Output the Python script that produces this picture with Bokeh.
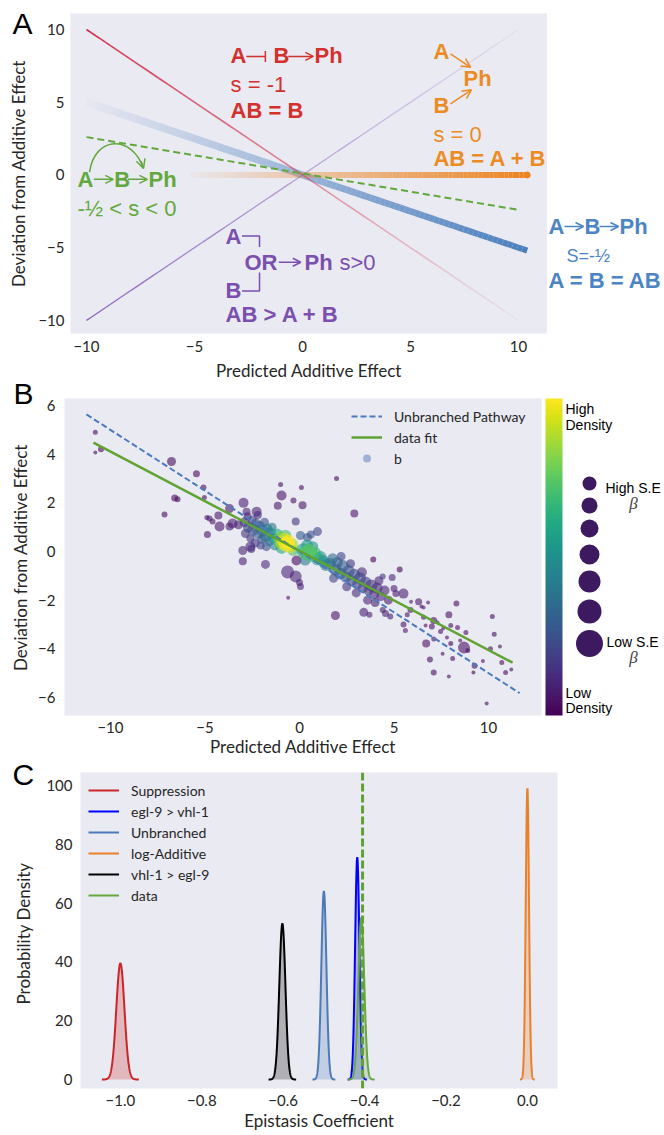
import numpy as np
from bokeh.plotting import figure
from bokeh.models import (Range1d, FixedTicker, Label, Arrow, OpenHead, TeeHead, Legend, LegendItem,
                          ColumnDataSource, ColorBar, LinearColorMapper, CustomJSTickFormatter)
from bokeh.layouts import column, row
from bokeh.palettes import Viridis256
from bokeh.transform import linear_cmap
from bokeh.embed import file_html
from bokeh.resources import INLINE

# ======================= DATA =======================
# ---- Panel A : model lines (x extent, slope, intercept)
a_ticks = [-10, -5, 0, 5, 10]
supp_x = [-10.0, 10.0]
supp_slope, supp_icpt = -1.0, 0.0
or_x = [-10.0, 10.0]
or_slope, or_icpt = 1.0, 0.0
unbr_x = [-10.0, 10.4]
unbr_slope, unbr_icpt = -0.5, 0.0
addv_x = [-5.2, 10.4]
addv_slope, addv_icpt = 0.0, 0.0
brch_x = [-10.0, 10.0]
brch_slope, brch_icpt = -0.25, 0.1

# ---- Panel B : scatter of genes (x, y, marker size ~ 1/SE, local density)
b_x = [-10.8, -10.8, -10.5, -6.77, -5.45, -5.08, -6.6, -6.45, -7.14, -5.03,
       -4.87, -4.9, -4.76, -4.6, -4.29, -4.23, -3.7, -3.54, -3.23, -2.96,
       -2.8, -2.27, -3.0, -2.6, -3.0, -2.86, -3.7,
       -0.95, -1.0, 0.1, 1.96, -0.32, -1.15, 0.16, -0.2, 2.9,
       -1.8, -0.63, -0.16, -0.2, 0.0, 0.05, -0.6, 1.9,
       0.95, 0.42, 0.6, 0.05,
       3.9, 5.3, 4.9, 4.4, 5.0, 5.5, 5.1, 6.3, 5.9, 6.8, 6.45, 6.56, 8.3, 7.9, 7.1, 7.3,
       5.5, 6.67, 7.0, 7.6, 8.0, 7.46, 8.36, 8.8, 8.5, 8.0, 6.7, 7.1, 7.8, 8.7,
       10.2, 10.3, 10.6, 10.1, 8.9, 6.9, 7.57, 8.1, 9.26, 9.7, 10.7, 10.9, 11.2, 9.2,
       7.1, 7.9, 9.9, 5.87, 5.7, 5.6, 6.56, 3.4, 3.7, 4.55, 4.8, 4.4,
       -2.9, -2.7, -2.5, -2.45, -2.3, -2.2, -2.1, -2.0, -1.95, -1.85, -1.8, -1.7,
       -1.6, -1.55, -2.6, -2.35, -1.45, -1.4, -1.3, -2.75, -2.2, -1.75, -2.05, -2.55,
       -1.2, -1.1, -1.0, -0.9, -0.8, -0.7, -0.6, -0.5, -0.4, -0.95, -0.75, -0.35,
       0.2, 0.35, 0.5, 0.65, 0.8, 0.95, 1.1, 1.25, 0.4, 0.7, 1.4, 0.3,
       1.6, 1.75, 1.9, 2.0, 2.15, 2.3, 2.45, 2.6, 2.75, 2.9, 3.05, 3.2, 3.35, 3.5,
       3.65, 3.8, 3.95, 4.1, 4.3, 4.5, 4.7, 2.2, 2.7, 3.3, 3.0, 3.6, 4.0, 2.5, 1.8, 4.2]
b_y = [4.9, 4.07, 4.2, 3.7, 3.2, 2.63, 2.2, 2.15, 1.52, 2.22,
       0.7, 1.4, 1.36, 1.23, 1.48, 1.03, 1.03, 1.15, 1.1, 2.0,
       1.64, 1.64, 0.04, 0.2, -0.4, 0.74, 1.77,
       2.3, 2.75, 2.63, 3.0, 2.1, 1.88, 1.9, 1.23, 1.56,
       -0.53, -0.84, -0.37, -1.03, -1.27, -1.44, -1.9, -2.63,
       0.82, 0.58, 0.7, 0.66,
       -0.33, -0.74, -1.07, -1.03, -1.52, -1.73, -1.73, -2.06, -2.06, -2.1, -2.26, -2.3, -2.14, -2.6, -2.83, -2.92,
       -3.0, -3.04, -3.08, -3.16, -3.04, -3.29, -3.12, -3.33, -3.66, -3.78, -3.78, -3.6, -3.53, -3.95,
       -2.67, -3.4, -3.9, -4.0, -4.07, -4.44, -4.2, -4.4, -4.7, -4.5, -4.56, -4.97, -4.85, -4.97,
       -4.97, -5.14, -6.25, -2.4, -2.6, -3.25, -2.7, -2.5, -2.6, -2.55, -2.67, -2.4,
       1.2, 1.0, 1.3, 0.9, 1.15, 0.75, 1.05, 0.5, 0.85, 1.2, 0.6, 0.95,
       0.4, 0.75, 0.55, 0.35, 1.0, 0.55, 0.25, 1.45, 1.5, 0.2, 0.25, 0.1,
       0.7, 0.45, 0.55, 0.35, 0.45, 0.3, 0.4, 0.2, 0.3, 0.15, 0.65, 0.05,
       0.05, -0.05, 0.0, -0.15, -0.1, -0.3, -0.25, -0.4, 0.25, 0.2, -0.55, -0.35,
       -0.5, -0.3, -0.75, -0.45, -0.9, -0.6, -1.05, -0.8, -1.2, -0.95, -1.35, -1.1, -1.5, -1.25,
       -1.6, -1.4, -1.75, -1.5, -1.85, -1.6, -2.0, -0.2, -0.5, -0.85, -1.7, -2.0, -2.1, -1.45, -1.1, -1.2]
b_size = [5, 4, 6, 9, 7, 6, 7, 6, 6, 5,
          7, 5, 6, 6, 8, 10, 8, 10, 9, 10,
          8, 10, 9, 10, 8, 9, 9,
          10, 5, 5, 5, 6, 8, 8, 8, 8,
          9, 13, 10, 12, 7, 7, 4, 9,
          9, 9, 8, 9,
          6, 6, 7, 6, 7, 10, 7, 7, 4, 4, 4, 4, 6, 7, 7, 4,
          6, 4, 6, 4, 5, 5, 5, 5, 4, 5, 8, 5, 4, 12,
          5, 5, 4, 5, 5, 6, 4, 5, 6, 4, 5, 5, 4, 4,
          6, 4, 4, 6, 5, 5, 5, 9, 6, 7, 6, 6,
          10, 11, 9, 12, 10, 11, 10, 9, 12, 9, 11, 10,
          9, 12, 8, 9, 9, 11, 10, 8, 8, 9, 8, 8,
          12, 13, 14, 14, 15, 15, 14, 13, 12, 12, 12, 11,
          14, 15, 15, 14, 14, 13, 13, 12, 12, 11, 12, 11,
          12, 11, 12, 11, 12, 12, 11, 12, 11, 12, 10, 12, 10, 11,
          10, 12, 10, 11, 9, 10, 9, 9, 9, 10, 9, 9, 9, 9, 9, 9]
b_density = [0.02, 0.02, 0.02, 0.03, 0.03, 0.03, 0.03, 0.03, 0.03, 0.03,
             0.05, 0.05, 0.05, 0.05, 0.06, 0.06, 0.08, 0.08, 0.1, 0.08,
             0.1, 0.1, 0.1, 0.12, 0.08, 0.15, 0.07,
             0.05, 0.04, 0.04, 0.03, 0.05, 0.06, 0.06, 0.15, 0.05,
             0.12, 0.1, 0.02, 0.1, 0.08, 0.08, 0.05, 0.05,
             0.2, 0.25, 0.25, 0.3,
             0.0, 0.0, 0.1, 0.15, 0.08, 0.08, 0.08, 0.06, 0.06, 0.05, 0.05, 0.05, 0.03, 0.04, 0.04, 0.04,
             0.04, 0.04, 0.04, 0.04, 0.04, 0.04, 0.04, 0.04, 0.04, 0.0, 0.04, 0.04, 0.04, 0.04,
             0.03, 0.03, 0.03, 0.03, 0.03, 0.03, 0.03, 0.03, 0.03, 0.03, 0.03, 0.03, 0.03, 0.0,
             0.03, 0.03, 0.03, 0.05, 0.05, 0.05, 0.05, 0.08, 0.08, 0.08, 0.08, 0.08,
             0.15, 0.2, 0.18, 0.25, 0.25, 0.3, 0.3, 0.25, 0.35, 0.25, 0.35, 0.4,
             0.35, 0.45, 0.15, 0.15, 0.4, 0.5, 0.45, 0.1, 0.12, 0.25, 0.2, 0.12,
             0.6, 0.7, 0.8, 0.9, 0.95, 1.0, 1.0, 0.95, 0.85, 0.6, 0.7, 0.7,
             0.55, 0.7, 0.75, 0.7, 0.65, 0.55, 0.5, 0.45, 0.55, 0.5, 0.4, 0.4,
             0.35, 0.35, 0.3, 0.3, 0.3, 0.3, 0.25, 0.25, 0.22, 0.22, 0.2, 0.2, 0.18, 0.18,
             0.15, 0.15, 0.12, 0.12, 0.1, 0.1, 0.08, 0.2, 0.15, 0.12, 0.12, 0.1, 0.08, 0.15, 0.2, 0.1]
b_ticks_x = [-10, -5, 0, 5, 10]
b_ticks_y = [-6, -4, -2, 0, 2, 4, 6]
b_unbr_x = [-11.27, 11.64]
b_unbr_slope = -0.5
b_fit_x = [-10.9, 11.27]
b_fit_slope, b_fit_icpt = -0.408, 0.03
b_se_sizes = [14, 16, 18, 20, 22, 24, 27]   # size legend (high S.E -> low S.E)

# ---- Panel C : posterior densities of the epistasis coefficient
c_labels = ["Suppression", "egl-9 > vhl-1", "Unbranched", "log-Additive", "vhl-1 > egl-9", "data"]
c_means = [-1.0, -0.418, -0.50, 0.0, -0.602, -0.408]
c_peaks = [39.5, 75.5, 64.0, 99.0, 53.0, 55.0]
c_colors = ["#cc2529", "#0000ff", "#4c7ab8", "#e8812a", "#000000", "#66a83f"]
c_data_value = -0.405
c_ticks_x = [-1.0, -0.8, -0.6, -0.4, -0.2, 0.0]
c_ticks_y = [0, 20, 40, 60, 80, 100]

# ======================= STYLE =======================
BG = "#EAEAF2"
TF = "Lato"
AF = "Liberation Sans"
TXT = "#262626"
RED = "#d3312d"
ORANGE = "#ec8b23"
GREEN = "#62a83e"
BLUE = "#4c84c4"
PURPLE = "#7a4fae"
PURPLE_L = "#8c62c0"
GW = 35   # width of the left gutter (panel letters + y labels)


def fmt(dec):
    return CustomJSTickFormatter(code="return (tick < 0 ? '\u2212' : '') + Math.abs(tick).toFixed(%d);" % dec)


def style(p, xt, yt, xdec, ydec, xls=7, xas=4, yls=6):
    p.background_fill_color = BG
    p.border_fill_color = "white"
    p.outline_line_color = None
    p.xgrid.visible = False
    p.ygrid.visible = False
    p.xaxis.ticker = FixedTicker(ticks=xt)
    p.yaxis.ticker = FixedTicker(ticks=yt)
    p.xaxis.formatter = fmt(xdec)
    p.yaxis.formatter = fmt(ydec)
    for ax in p.axis:
        ax.axis_line_color = None
        ax.major_tick_line_color = None
        ax.minor_tick_line_color = None
        ax.major_tick_out = 0
        ax.major_tick_in = 0
        ax.minor_tick_out = 0
        ax.major_label_text_font = TF
        ax.major_label_text_font_size = "15px"
        ax.major_label_text_color = TXT
        ax.axis_label_text_font = TF
        ax.axis_label_text_font_size = "17px"
        ax.axis_label_text_font_style = "normal"
        ax.axis_label_text_color = TXT
    p.xaxis.major_label_standoff = xls
    p.xaxis.axis_label_standoff = xas
    p.yaxis.major_label_standoff = yls


def blank(w, h, xr, yr, top=0, bottom=0):
    g = figure(width=w, height=h, min_border_left=0, min_border_right=0, min_border_top=top,
               min_border_bottom=bottom, x_range=Range1d(*xr), y_range=Range1d(*yr),
               x_axis_location=None, y_axis_location=None, output_backend="svg", toolbar_location=None)
    g.outline_line_color = None
    g.xgrid.visible = False
    g.ygrid.visible = False
    g.background_fill_color = "white"
    return g


def lab(p, x, y, text, color, size, style_="bold", font=AF, align="left", angle=0.0):
    p.add_layout(Label(x=x, y=y, text=text, text_color=color, text_font=font,
                       text_font_size="%dpx" % size, text_font_style=style_,
                       text_align=align, text_baseline="middle", angle=angle))


def arr(p, x0, y0, x1, y1, color, tee=False, size=8, lw=1.5):
    head = (TeeHead(size=size, line_color=color, line_width=lw) if tee
            else OpenHead(size=size, line_color=color, line_width=lw))
    p.add_layout(Arrow(x_start=x0, y_start=y0, x_end=x1, y_end=y1, line_color=color,
                       line_width=lw, end=head))


def grad_line(p, xr, slope, icpt, color, w0, w1, a0, a1, n=90):
    xs = np.linspace(xr[0], xr[1], n + 1)
    ys = slope * xs + icpt
    p.segment(x0=xs[:-1], y0=ys[:-1], x1=xs[1:], y1=ys[1:], line_color=color,
              line_width=np.linspace(w0, w1, n), line_alpha=np.linspace(a0, a1, n))


# ======================= LEFT GUTTER (panel letters + y labels) =======================
TOTAL_H = 1133
gl = blank(GW, TOTAL_H, (0, GW), (TOTAL_H, 0))
lab(gl, 12, 23, "A", "black", 30, "normal")
lab(gl, 18, 173, "Deviation from Additive Effect", TXT, 17, "normal", font=TF, align="center",
    angle=np.pi / 2)
lab(gl, 13, 393, "B", "black", 30, "normal")
lab(gl, 20, 557, "Deviation from Additive Effect", TXT, 17, "normal", font=TF, align="center",
    angle=np.pi / 2)
lab(gl, 12, 774, "C", "black", 30, "normal")
lab(gl, 23, 933, "Probability Density", TXT, 17, "normal", font=TF, align="center", angle=np.pi / 2)

# ======================= PANEL A =======================
pa = figure(frame_width=477, frame_height=320, min_border_left=69 - GW, min_border_right=0,
            min_border_top=13, min_border_bottom=52,
            x_range=Range1d(-10.74, 11.34), y_range=Range1d(-10.9, 11.1),
            output_backend="svg", toolbar_location=None,
            x_axis_label="Predicted Additive Effect")
style(pa, a_ticks, a_ticks, 0, 0, xls=7, xas=5, yls=6)

grad_line(pa, unbr_x, unbr_slope, unbr_icpt, "#4a7fbd", 8, 6, 0.02, 1.0)
grad_line(pa, addv_x, addv_slope, addv_icpt, "#ec8420", 6, 6, 0.03, 1.0)
grad_line(pa, supp_x, supp_slope, supp_icpt, "#d0304a", 1.6, 1.6, 1.0, 0.03)
grad_line(pa, or_x, or_slope, or_icpt, PURPLE_L, 1.3, 1.3, 1.0, 0.08)
bx = np.array(brch_x)
pa.line(bx, brch_slope * bx + brch_icpt, line_color=GREEN, line_width=2, line_dash="7 4")
pa.scatter([addv_x[1]], [addv_icpt], size=6, color="#ec8420")

# suppression (red)
lab(pa, -3.33, 8.18, "A", RED, 22)
arr(pa, -2.6, 8.15, -1.72, 8.15, RED, tee=True, size=11)
lab(pa, -1.34, 8.18, "B", RED, 22)
arr(pa, -0.66, 8.15, 0.5, 8.15, RED)
lab(pa, 0.56, 8.18, "Ph", RED, 22)
lab(pa, -3.33, 6.25, "s = -1", RED, 22, "normal")
lab(pa, -3.33, 4.45, "AB = B", RED, 22)
# additive (orange)
lab(pa, 6.06, 8.5, "A", ORANGE, 22)
lab(pa, 7.45, 6.6, "Ph", ORANGE, 22)
lab(pa, 6.06, 4.8, "B", ORANGE, 22)
lab(pa, 6.06, 2.8, "s = 0", ORANGE, 22, "normal")
lab(pa, 6.06, 1.1, "AB = A + B", ORANGE, 22)
arr(pa, 6.85, 8.32, 7.78, 7.4, ORANGE, size=9)
arr(pa, 6.85, 4.88, 7.82, 5.85, ORANGE, size=9)
# branched (green)
lab(pa, -10.42, -0.34, "A", GREEN, 22)
arr(pa, -9.66, -0.3, -8.76, -0.3, GREEN)
lab(pa, -8.72, -0.34, "B", GREEN, 22)
arr(pa, -8.08, -0.3, -7.18, -0.3, GREEN)
lab(pa, -7.13, -0.34, "Ph", GREEN, 22)
lab(pa, -10.42, -2.3, "-\u00bd < s < 0", GREEN, 22, "normal")
pa.bezier(x0=[-9.86], y0=[0.2], x1=[-7.38], y1=[0.5], cx0=[-9.6], cy0=[2.75],
          cx1=[-7.9], cy1=[2.75], line_color=GREEN, line_width=1.5)
arr(pa, -7.47, 0.95, -7.36, 0.45, GREEN, size=9)
# synthetic (purple)
lab(pa, -3.56, -4.2, "A", PURPLE, 22)
lab(pa, -3.56, -7.95, "B", PURPLE, 22)
lab(pa, -2.69, -6.05, "OR", PURPLE, 22)
arr(pa, -1.1, -6.0, -0.08, -6.0, PURPLE)
lab(pa, 0.09, -6.05, "Ph", PURPLE, 22)
lab(pa, 1.71, -6.05, "s>0", PURPLE, 22, "normal")
lab(pa, -3.56, -9.6, "AB > A + B", PURPLE, 22)
pa.multi_line(xs=[[-2.8, -1.99, -1.99], [-2.8, -1.99, -1.99]],
              ys=[[-4.19, -4.19, -4.95], [-7.97, -7.97, -6.7]], line_color=PURPLE, line_width=1.5)

# right side of panel A (frame aligned with panel A frame: page y 13..333)
gra = blank(116, 385, (546, 662), (333, 13), top=13, bottom=52)
lab(gra, 547, 226, "A", BLUE, 22)
arr(gra, 563, 226, 582, 226, BLUE)
lab(gra, 583, 226, "B", BLUE, 22)
arr(gra, 598, 226, 617, 226, BLUE)
lab(gra, 618, 226, "Ph", BLUE, 22)
lab(gra, 565, 255, "S=-\u00bd", BLUE, 18, "normal")
lab(gra, 547, 280, "A = B = AB", BLUE, 22)

# ======================= PANEL B =======================
pb = figure(frame_width=477, frame_height=317, min_border_left=64 - GW, min_border_right=4,
            min_border_top=13, min_border_bottom=45,
            x_range=Range1d(-12.43, 12.8), y_range=Range1d(-6.74, 6.29),
            output_backend="svg", toolbar_location=None,
            x_axis_label="Predicted Additive Effect")
style(pb, b_ticks_x, b_ticks_y, 0, 0, xls=6, xas=0, yls=9)

order = np.argsort(np.array(b_density), kind="stable")
src = ColumnDataSource(dict(x=np.array(b_x)[order], y=np.array(b_y)[order],
                            s=np.array(b_size)[order], d=np.array(b_density)[order]))
pb.scatter("x", "y", size="s", source=src, fill_color=linear_cmap("d", Viridis256, 0, 1),
           fill_alpha=0.6, line_color=None)
ux = np.array(b_unbr_x)
r_unbr = pb.line(ux, b_unbr_slope * ux, line_color="#4a7bbd", line_width=2, line_dash="6 3")
fx = np.array(b_fit_x)
r_fit = pb.line(fx, b_fit_slope * fx + b_fit_icpt, line_color="#5fa332", line_width=2.5)
r_b = pb.scatter(x=[float("nan")], y=[float("nan")], size=9, fill_color="#9fb1d8", line_color=None)
leg_b = Legend(items=[LegendItem(label="Unbranched Pathway", renderers=[r_unbr]),
                      LegendItem(label="data fit", renderers=[r_fit]),
                      LegendItem(label="b", renderers=[r_b])],
               location=(287, 247), margin=0, padding=4, spacing=1, glyph_width=31,
               glyph_height=20, label_height=20, label_standoff=12,
               background_fill_alpha=0, border_line_color=None,
               label_text_font=TF, label_text_font_size="14px", label_text_color=TXT)
pb.add_layout(leg_b)

# side panel: density colour bar + size legend (frame aligned with panel B frame: 398..715)
pk = blank(117, 375, (545, 662), (715, 398), top=13, bottom=45)
cb = ColorBar(color_mapper=LinearColorMapper(palette=Viridis256, low=0, high=1),
              width=17, height=317, location="top_left", padding=0, margin=0,
              ticker=FixedTicker(ticks=[]), major_tick_line_color=None,
              major_label_text_font_size="0px", bar_line_color=None,
              border_line_color=None, background_fill_alpha=0)
pk.add_layout(cb, "center")
lab(pk, 565, 408, "High", "black", 14, "normal")
lab(pk, 565, 424, "Density", "black", 14, "normal")
lab(pk, 565, 692, "Low", "black", 14, "normal")
lab(pk, 565, 707, "Density", "black", 14, "normal")
leg_y = [483, 505, 528, 554, 581, 611, 643]
pk.scatter(x=[589] * len(b_se_sizes), y=leg_y, size=b_se_sizes, fill_color="#3d1a5f", line_color=None)
lab(pk, 605, 487, "High S.E", "black", 14, "normal")
lab(pk, 633, 503, "\u03b2", "#444444", 17, "italic", font="Liberation Serif", align="center")
lab(pk, 606, 641, "Low S.E", "black", 14, "normal")
lab(pk, 633, 657, "\u03b2", "#444444", 17, "italic", font="Liberation Serif", align="center")

# ======================= PANEL C =======================
pc = figure(frame_width=477, frame_height=316, min_border_left=80 - GW, min_border_right=105,
            min_border_top=12, min_border_bottom=45,
            x_range=Range1d(-1.098, 0.074), y_range=Range1d(-3.06, 104.4),
            output_backend="svg", toolbar_location=None,
            x_axis_label="Epistasis Coefficient")
style(pc, c_ticks_x, c_ticks_y, 1, 0, xls=6, xas=1, yls=8)

items = []
for lbl, mu, pk_, col in zip(c_labels, c_means, c_peaks, c_colors):
    sd = 1.0 / (pk_ * np.sqrt(2 * np.pi))
    xs = np.linspace(mu - 4.5 * sd, mu + 4.5 * sd, 201)
    ys = np.exp(-0.5 * ((xs - mu) / sd) ** 2) / (sd * np.sqrt(2 * np.pi))
    pc.varea(x=xs, y1=np.zeros_like(xs), y2=ys, fill_color=col, fill_alpha=0.25)
    r = pc.line(xs, ys, line_color=col, line_width=2)
    items.append(LegendItem(label=lbl, renderers=[r]))
pc.line([c_data_value, c_data_value], [-3.06, 104.4], line_color="#5fa332", line_width=3, line_dash="8 3")
leg_c = Legend(items=items, location="top_left", margin=8, padding=5, spacing=1, glyph_width=31,
               glyph_height=20, label_height=20, label_standoff=12,
               background_fill_alpha=0, border_line_color=None,
               label_text_font=TF, label_text_font_size="14px", label_text_color=TXT)
pc.add_layout(leg_c)

layout = row(gl, column(row(pa, gra), row(pb, pk), pc))
open("out.html", "w").write(file_html(layout, INLINE))
